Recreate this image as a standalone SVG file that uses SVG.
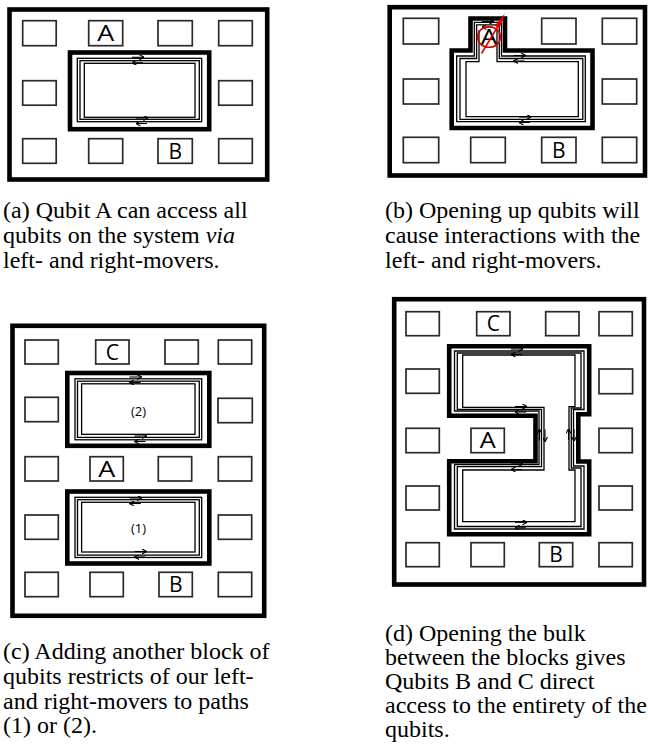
<svg xmlns="http://www.w3.org/2000/svg" width="648" height="747" viewBox="0 0 648 747">
<defs>
<style>
.frame{fill:#fff;stroke:#000;stroke-width:4.6}
.box{fill:#fff;stroke:#2a2a2a;stroke-width:1.7}
.thick{fill:none;stroke:#000;stroke-width:4.6;stroke-linejoin:miter}
.thin{fill:none;stroke:#000;stroke-width:1.3}
.arr{fill:none;stroke:#000;stroke-width:1.1}
.lbl{font-family:"Open Sans","DejaVu Sans",sans-serif;font-size:21px;fill:#000;text-anchor:middle}
.num{font-family:"Open Sans","DejaVu Sans",sans-serif;font-size:13px;fill:#000;text-anchor:middle}
.cap{font-family:"Liberation Serif","Times New Roman",serif;font-size:24px;fill:#000}
</style>
<marker id="ah" viewBox="0 0 6 6" refX="5.5" refY="3" markerWidth="5" markerHeight="5" orient="auto" markerUnits="userSpaceOnUse">
<path d="M0,0 L6,3 L0,6" fill="none" stroke="#000" stroke-width="1.3"/>
</marker>
<g id="pair">
<path class="arr" d="M-6,0 H6" marker-end="url(#ah)"/>
<path class="arr" d="M5,5.5 H-6" marker-end="url(#ah)"/>
</g>
</defs>
<rect width="648" height="747" fill="#fff"/>

<!-- Panel (a) -->
<g id="panel-a">
<rect class="frame" x="9.5" y="9.5" width="257.7" height="170"/>
<g id="a-q11"><rect class="box" x="22.7" y="20.7" width="33.5" height="25"/></g>
<g id="a-A"><rect class="box" x="88.7" y="20.7" width="34" height="25"/><text class="lbl" x="105.7" y="40.7" textLength="17" lengthAdjust="spacingAndGlyphs">A</text></g>
<g id="a-q13"><rect class="box" x="158" y="20.7" width="34.3" height="25"/></g>
<g id="a-q14"><rect class="box" x="218.7" y="20.7" width="33.6" height="25"/></g>
<g id="a-q21"><rect class="box" x="22.7" y="80.7" width="33.5" height="24.5"/></g>
<g id="a-q24"><rect class="box" x="218.7" y="80.7" width="33.6" height="24.5"/></g>
<g id="a-q31"><rect class="box" x="22.7" y="138.7" width="33.5" height="24.6"/></g>
<g id="a-q32"><rect class="box" x="88.7" y="138.7" width="34" height="24.6"/></g>
<g id="a-B"><rect class="box" x="158" y="138.7" width="34.3" height="24.6"/><text class="lbl" x="175.2" y="158.7">B</text></g>
<g id="a-q34"><rect class="box" x="218.7" y="138.7" width="33.6" height="24.6"/></g>
<g id="a-block"><rect class="thick" x="70" y="52.5" width="139.2" height="76.7"/></g>
<g id="a-movers">
<rect class="thin" x="77.3" y="58.3" width="124.4" height="63.4"/>
<rect class="thin" x="80" y="60.7" width="119.3" height="58.6"/>
<rect class="thin" x="84.3" y="63.3" width="110.7" height="54"/>
<use href="#pair" transform="translate(138,57.3)"/>
<use href="#pair" transform="translate(142,118)"/>
</g>
</g>

<!-- Panel (b) -->
<g id="panel-b">
<rect class="frame" x="389.7" y="7.2" width="255.3" height="168.3"/>
<g id="b-q11"><rect class="box" x="403.3" y="18.3" width="35.4" height="25.7"/></g>
<g id="b-q13"><rect class="box" x="541.7" y="18.3" width="34.3" height="25.7"/></g>
<g id="b-q14"><rect class="box" x="602.3" y="18.3" width="34.4" height="25.7"/></g>
<g id="b-q21"><rect class="box" x="403.3" y="79" width="35.4" height="25"/></g>
<g id="b-q24"><rect class="box" x="602.3" y="79" width="34.4" height="25"/></g>
<g id="b-q31"><rect class="box" x="403.3" y="137.3" width="35.4" height="25.4"/></g>
<g id="b-q32"><rect class="box" x="470.7" y="137.3" width="34.6" height="25.4"/></g>
<g id="b-B"><rect class="box" x="541.7" y="137.3" width="34.3" height="25.4"/><text class="lbl" x="558.8" y="157.5">B</text></g>
<g id="b-q34"><rect class="box" x="602.3" y="137.3" width="34.4" height="25.4"/></g>
<g id="b-block"><path class="thick" d="M451.7,50.5 H470.5 V18.5 H505 V50.5 H592.5 V128 H451.7 Z"/></g>
<g id="b-movers">
<path class="thin" d="M456.7,56 H474.3 V22.3 H501.5 V56 H585.3 V121.7 H456.7 Z"/>
<path class="thin" d="M460,58.5 H476.6 V24.8 H499.3 V58.5 H582.8 V119.3 H460 Z"/>
<path class="thin" d="M479,30 V61.7 H466 V116.7 H578.3 V61.7 H497 V30"/>
<use href="#pair" transform="translate(488,21.5)"/>
<use href="#pair" transform="translate(519.5,55.5)"/>
<use href="#pair" transform="translate(525,117)"/>
</g>
<g id="b-A"><text class="lbl" x="489" y="44.5" textLength="17" lengthAdjust="spacingAndGlyphs">A</text></g>
<g id="b-mark">
<ellipse cx="489" cy="37" rx="11.5" ry="10.3" fill="none" stroke="#e00000" stroke-width="1.6"/>
<path d="M481.5,53.5 L497.5,27" stroke="#e00000" stroke-width="1.6" fill="none"/>
<polygon points="504.8,13.5 499.6,28.6 494.8,25.8" fill="#e00000"/>
</g>
</g>

<!-- Panel (c) -->
<g id="panel-c">
<rect class="frame" x="12.5" y="325.8" width="251.7" height="290"/>
<g id="c-q11"><rect class="box" x="25" y="340" width="33.3" height="24"/></g>
<g id="c-C"><rect class="box" x="95.7" y="340" width="33.3" height="24"/><text class="lbl" x="112.3" y="359.5">C</text></g>
<g id="c-q13"><rect class="box" x="165" y="340" width="33.3" height="24"/></g>
<g id="c-q14"><rect class="box" x="218.3" y="340" width="33.4" height="24"/></g>
<g id="c-q21"><rect class="box" x="25" y="397.3" width="33.3" height="24.4"/></g>
<g id="c-q24"><rect class="box" x="218" y="398.3" width="34.3" height="24.4"/></g>
<g id="c-q31"><rect class="box" x="25" y="456.7" width="33.3" height="24.3"/></g>
<g id="c-A"><rect class="box" x="90" y="456.7" width="33.3" height="24.3"/><text class="lbl" x="106.7" y="476.5" textLength="17" lengthAdjust="spacingAndGlyphs">A</text></g>
<g id="c-q33"><rect class="box" x="158.3" y="456.7" width="33.4" height="24.3"/></g>
<g id="c-q34"><rect class="box" x="218.3" y="456.7" width="33.4" height="24.3"/></g>
<g id="c-q41"><rect class="box" x="25" y="515" width="33.3" height="24.3"/></g>
<g id="c-q44"><rect class="box" x="218.3" y="515" width="33.4" height="24.3"/></g>
<g id="c-q51"><rect class="box" x="25" y="572.3" width="33.3" height="24.4"/></g>
<g id="c-q52"><rect class="box" x="90" y="572.3" width="33.3" height="24.4"/></g>
<g id="c-B"><rect class="box" x="159" y="572.3" width="33.3" height="24.4"/><text class="lbl" x="175.7" y="592">B</text></g>
<g id="c-q54"><rect class="box" x="218.3" y="572.3" width="33.4" height="24.4"/></g>
<g id="c-block2"><rect class="thick" x="67.3" y="373" width="142" height="72.8"/></g>
<g id="c-block1"><rect class="thick" x="67.3" y="491.5" width="142" height="72"/></g>
<g id="c-movers">
<rect class="thin" x="75" y="378.8" width="126.7" height="61"/>
<rect class="thin" x="77.5" y="381.2" width="121.8" height="56.2"/>
<rect class="thin" x="81.6" y="383.8" width="113.4" height="50.5"/>
<rect class="thin" x="75" y="497.3" width="126.7" height="60.2"/>
<rect class="thin" x="77.5" y="499.7" width="121.8" height="55.4"/>
<rect class="thin" x="81.6" y="502.3" width="113.4" height="49.7"/>
<use href="#pair" transform="translate(135.5,377)"/>
<use href="#pair" transform="translate(140.5,436)"/>
<use href="#pair" transform="translate(135.8,498)"/>
<use href="#pair" transform="translate(140.5,551.5)"/>
</g>
<text class="num" x="138.5" y="416">(2)</text>
<text class="num" x="138.5" y="532.5">(1)</text>
</g>

<!-- Panel (d) -->
<g id="panel-d">
<rect class="frame" x="394.2" y="299.2" width="249.8" height="285.3"/>
<g id="d-q11"><rect class="box" x="406" y="311.7" width="33.3" height="24"/></g>
<g id="d-C"><rect class="box" x="476.7" y="311.7" width="33.3" height="24"/><text class="lbl" x="493.3" y="331.2">C</text></g>
<g id="d-q13"><rect class="box" x="545.7" y="311.7" width="33.3" height="24"/></g>
<g id="d-q14"><rect class="box" x="599" y="311.7" width="33.3" height="24"/></g>
<g id="d-q21"><rect class="box" x="406" y="369" width="33.3" height="24.3"/></g>
<g id="d-q24"><rect class="box" x="599" y="369" width="33.6" height="24.7"/></g>
<g id="d-q31"><rect class="box" x="406" y="428.3" width="33.3" height="24.4"/></g>
<g id="d-A"><rect class="box" x="471" y="428.3" width="33.3" height="24.4"/><text class="lbl" x="487.7" y="448" textLength="16" lengthAdjust="spacingAndGlyphs">A</text></g>
<g id="d-q34"><rect class="box" x="599" y="428.3" width="33.3" height="24.4"/></g>
<g id="d-q41"><rect class="box" x="406" y="486" width="33.3" height="24"/></g>
<g id="d-q44"><rect class="box" x="599" y="486" width="33.3" height="24"/></g>
<g id="d-q51"><rect class="box" x="406" y="542.7" width="33.3" height="24"/></g>
<g id="d-q52"><rect class="box" x="471" y="542.7" width="33.3" height="24"/></g>
<g id="d-B"><rect class="box" x="539.3" y="542.7" width="33.4" height="24"/><text class="lbl" x="556" y="562">B</text></g>
<g id="d-q54"><rect class="box" x="599" y="542.7" width="33.3" height="24"/></g>
<g id="d-block"><path class="thick" d="M449.2,346.2 H589.2 V414.2 H578.3 V461.5 H589.2 V534.2 H449.2 V461.3 H535.5 V415.8 H449.2 Z"/></g>
<g id="d-movers">
<path class="thin" d="M454.5,351 H584 V409.5 H573.5 V466 H584 V529 H454.5 V464.5 H539 V411 H454.5 Z"/>
<path class="thin" d="M457.3,353 H581 V408 H571.3 V468 H581 V526.5 H457.3 V466.7 H541.5 V409.3 H457.3 Z"/>
<path class="thin" d="M462.7,355 H575 V406.7 H569 V470 H575 V521.7 H462.7 V470 H544 V407.3 H462.7 Z"/>
<use href="#pair" transform="translate(517,349)"/>
<use href="#pair" transform="translate(521,406.5)"/>
<use href="#pair" transform="translate(517,464)"/>
<use href="#pair" transform="translate(521,522.3)"/>
<use href="#pair" transform="translate(545,435.5) rotate(90)"/>
<use href="#pair" transform="translate(574,435) rotate(90)"/>
</g>
</g>

<!-- Captions -->
<g id="captions">
<text class="cap" x="3" y="218.3">(a) Qubit A can access all</text>
<text class="cap" x="3" y="242.9">qubits on the system <tspan font-style="italic">via</tspan></text>
<text class="cap" x="3" y="267.5">left- and right-movers.</text>
<text class="cap" x="385" y="218.3">(b) Opening up qubits will</text>
<text class="cap" x="385" y="242.9">cause interactions with the</text>
<text class="cap" x="385" y="267.5">left- and right-movers.</text>
<text class="cap" x="3" y="659.3">(c) Adding another block of</text>
<text class="cap" x="3" y="683.9">qubits restricts of our left-</text>
<text class="cap" x="3" y="708.5">and right-movers to paths</text>
<text class="cap" x="3" y="733.1">(1) or (2).</text>
<text class="cap" x="385" y="640.7">(d) Opening the bulk</text>
<text class="cap" x="385" y="664.7">between the blocks gives</text>
<text class="cap" x="385" y="688.7">Qubits B and C direct</text>
<text class="cap" x="385" y="712.7">access to the entirety of the</text>
<text class="cap" x="385" y="736.7">qubits.</text>
</g>
</svg>
